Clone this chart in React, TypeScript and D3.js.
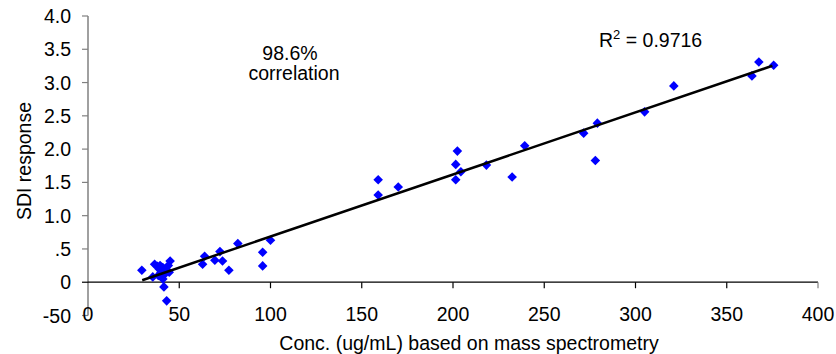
import React from "react";
import * as d3 from "d3";

const concValues = [
  29.5, 35.5, 36.5, 38, 38.5, 39, 39.5, 40, 40.5, 41, 41, 42, 42.5, 43, 44, 44.5, 45, 41.6, 43.1,
  62.8, 63.9, 69.5, 72.3, 73.7, 77.2, 82.1, 95.7, 95.7, 100,
  159, 159, 170, 202.4, 201.5, 201.5, 204.3, 218.3, 232.4, 239.3, 271.6, 279.1, 278,
  305, 321, 363.8, 367.6, 375.7,
];
const sdiValues = [
  0.18, 0.08, 0.27, 0.24, 0.1, 0.2, 0.25, 0.15, 0.18, 0.22, 0.05, 0.12, 0.2, 0.18, 0.25, 0.15, 0.32, -0.07, -0.28,
  0.27, 0.39, 0.33, 0.46, 0.32, 0.18, 0.58, 0.45, 0.245, 0.63,
  1.54, 1.31, 1.43, 1.97, 1.77, 1.54, 1.66, 1.76, 1.58, 2.05, 2.24, 2.39, 1.83,
  2.56, 2.95, 3.1, 3.31, 3.26,
];
const fitSlope = 0.00933;
const fitIntercept = -0.247;
const fitRange = [29.7, 375];

const xTicks = [0, 50, 100, 150, 200, 250, 300, 350, 400];
const yTicks = [-0.5, 0, 0.5, 1.0, 1.5, 2.0, 2.5, 3.0, 3.5, 4.0];
const yTickLabels = ["-50", "0", ".5", "1.0", "1.5", "2.0", "2.5", "3.0", "3.5", "4.0"];

const FONT = "Arial, 'Liberation Sans', sans-serif";
const FS = 19.5;

export default function App() {
  const x = d3.scaleLinear().domain([0, 400]).range([88, 818]);
  const y = d3.scaleLinear().domain([-0.5, 4.0]).range([315.5, 16]);
  const diamond = d3.symbol(d3.symbolSquare, 46)();
  const line = d3
    .line<number>()
    .x((d) => x(d))
    .y((d) => y(fitSlope * d + fitIntercept));

  return (
    <svg
      width={836}
      height={354}
      style={{ position: "absolute", left: 0, top: 0, background: "#fff" }}
      fontFamily={FONT}
    >
      <rect width={836} height={354} fill="#fff" />
      {/* y axis */}
      <line x1={x(0)} x2={x(0)} y1={y(4.0)} y2={y(-0.5)} stroke="#808080" strokeWidth={1.5} />
      {yTicks.map((t, i) => (
        <g key={t}>
          <line x1={x(0) - 6} x2={x(0)} y1={y(t)} y2={y(t)} stroke={t === 0 ? "#000" : "#808080"} strokeWidth={1.2} />
          <text x={71} y={y(t)} dy="0.36em" textAnchor="end" fontSize={FS} fill="#000">
            {yTickLabels[i]}
          </text>
        </g>
      ))}
      {/* x axis at y=0 */}
      <line x1={x(0)} x2={x(400)} y1={y(0)} y2={y(0)} stroke="#000" strokeWidth={1.2} />
      {xTicks.map((t) => (
        <g key={t}>
          {t > 0 && (
            <line x1={x(t)} x2={x(t)} y1={y(0)} y2={y(0) + 6} stroke={t === 400 ? "#808080" : "#000"} strokeWidth={1.2} />
          )}
          <text x={x(t)} y={321} textAnchor="middle" fontSize={FS} fill="#000">
            {t}
          </text>
        </g>
      ))}
      {/* points */}
      {concValues.map((c, i) => (
        <path
          key={i}
          d={diamond!}
          transform={`translate(${x(c)},${y(sdiValues[i])}) rotate(45)`}
          fill="#0000FF"
        />
      ))}
      {/* fit line */}
      <path d={line(fitRange)!} stroke="#000" strokeWidth={2.5} fill="none" />
      {/* annotations */}
      <text x={290} y={60} textAnchor="middle" fontSize={FS}>98.6%</text>
      <text x={294} y={80} textAnchor="middle" fontSize={FS}>correlation</text>
      <text x={599} y={47} fontSize={FS}>
        R<tspan fontSize={13} dy={-8}>2</tspan>
        <tspan dy={8}> = 0.9716</tspan>
      </text>
      {/* axis titles */}
      <text
        transform={`translate(31,${161}) rotate(-90)`}
        textAnchor="middle"
        fontSize={FS}
      >
        SDI response
      </text>
      <text x={469} y={350} textAnchor="middle" fontSize={FS}>
        Conc. (ug/mL) based on mass spectrometry
      </text>
    </svg>
  );
}
